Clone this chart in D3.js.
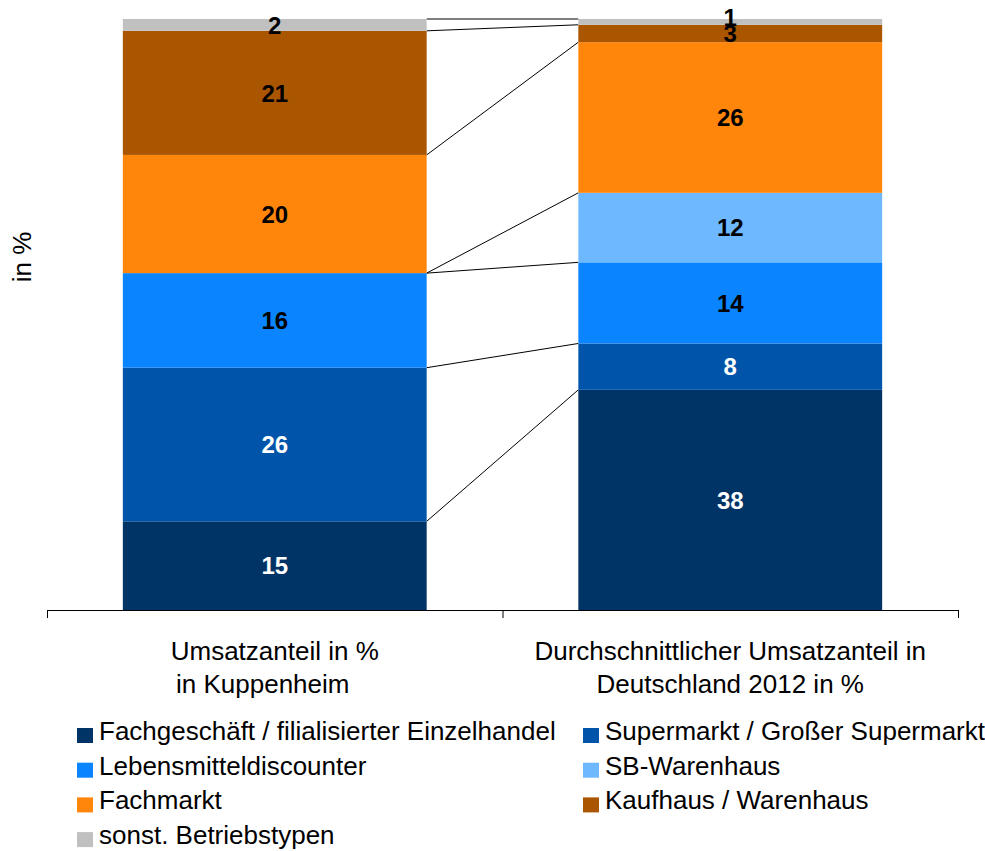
<!DOCTYPE html>
<html>
<head>
<meta charset="utf-8">
<script src="https://cdn.jsdelivr.net/npm/d3@7/dist/d3.min.js"></script>
<style>
  html, body { margin: 0; padding: 0; background: #fff; }
  svg { display: block; font-family: "Liberation Sans", Arial, sans-serif; }
</style>
</head>
<body>
<svg id="chart" width="985" height="851"></svg>
<script>
// Betriebstypen (stack order, bottom to top)
const seriesNames = [
  "Fachgeschäft / filialisierter Einzelhandel",
  "Supermarkt / Großer Supermarkt",
  "Lebensmitteldiscounter",
  "SB-Warenhaus",
  "Fachmarkt",
  "Kaufhaus / Warenhaus",
  "sonst. Betriebstypen"
];
const seriesColors = ["#003366", "#0055AA", "#0A84FF", "#6EB8FF", "#FF860A", "#AA5500", "#C0C0C0"];
const labelColors  = ["#fff", "#fff", "#000", "#000", "#000", "#000", "#000"];

// Categories (each label split into two lines)
const categories = ["Kuppenheim", "Deutschland 2012"];
const categoryLines = [
  ["Umsatzanteil in %", "in Kuppenheim"],
  ["Durchschnittlicher Umsatzanteil in", "Deutschland 2012 in %"]
];

// Umsatzanteil in % per Betriebstyp
const kuppenheim  = [15, 26, 16, 0, 20, 21, 2];
const deutschland = [38, 8, 14, 12, 26, 3, 1];

const rows = categories.map((c, i) => {
  const vals = i === 0 ? kuppenheim : deutschland;
  const r = { category: c };
  seriesNames.forEach((s, j) => r[s] = vals[j]);
  return r;
});

const svg = d3.select("#chart");
const margin = { left: 47, right: 27, top: 19, bottom: 241 };
const W = 985, H = 851;
const plotW = W - margin.left - margin.right;
const plotH = H - margin.top - margin.bottom;

const g = svg.append("g").attr("transform", `translate(${margin.left},${margin.top})`);

const x = d3.scaleBand().domain(categories).range([0, plotW]).paddingInner(0.333).paddingOuter(0.1665);
const y = d3.scaleLinear().domain([0, 1]).range([plotH, 0]);

const stacked = d3.stack().keys(seriesNames).offset(d3.stackOffsetExpand)(rows);

// Connector lines between the tops of matching segments
const leftCat = categories[0], rightCat = categories[1];
g.append("g").selectAll("line")
  .data(stacked)
  .join("line")
  .attr("x1", x(leftCat) + x.bandwidth())
  .attr("x2", x(rightCat))
  .attr("y1", d => y(d[0][1]))
  .attr("y2", d => y(d[1][1]))
  .attr("stroke", "#000")
  .attr("stroke-width", 1);

// Stacked segments
const layers = g.append("g").selectAll("g")
  .data(stacked)
  .join("g")
  .attr("fill", (d, i) => seriesColors[i]);

layers.selectAll("rect")
  .data(d => d.map(p => ({ p, key: d.key })))
  .join("rect")
  .attr("x", d => x(d.p.data.category))
  .attr("width", x.bandwidth())
  .attr("y", d => y(d.p[1]))
  .attr("height", d => y(d.p[0]) - y(d.p[1]));

// Value labels; a very thin top segment gets its label lifted a little
// so it does not sit on the label just below it
stacked.forEach((layer, i) => {
  const isTop = i === stacked.length - 1;
  g.append("g").selectAll("text")
    .data(layer.filter(p => p.data[layer.key] > 0))
    .join("text")
    .attr("x", p => x(p.data.category) + x.bandwidth() / 2)
    .attr("y", p => y((p[0] + p[1]) / 2) - (isTop && (p[1] - p[0]) < 0.015 ? 5 : 0))
    .attr("dy", "0.36em")
    .attr("text-anchor", "middle")
    .attr("font-size", 24)
    .attr("font-weight", "bold")
    .attr("fill", labelColors[i])
    .text(p => p.data[layer.key]);
});

// X axis baseline with category separators
const axis = g.append("g").attr("transform", `translate(0,${plotH})`);
axis.append("line").attr("x1", 0).attr("x2", plotW).attr("y1", 0.5).attr("y2", 0.5)
  .attr("stroke", "#000");
[0, x.step(), plotW].forEach(t => {
  axis.append("line").attr("x1", t + 0.5).attr("x2", t + 0.5).attr("y1", 0).attr("y2", 8)
    .attr("stroke", "#000");
});

// Category labels
categories.forEach((c, i) => {
  const cx = x(c) + x.bandwidth() / 2;
  const t = axis.append("text")
    .attr("text-anchor", "middle")
    .attr("font-size", 26)
    .attr("fill", "#000");
  categoryLines[i].forEach((line, k) => {
    t.append("tspan").attr("x", cx + (i === 0 && k === 1 ? -12 : 0)).attr("y", 50 + k * 33).text(line);
  });
});

// Y axis title
svg.append("text")
  .attr("transform", `translate(31,257) rotate(-90)`)
  .attr("text-anchor", "middle")
  .attr("font-size", 26)
  .text("in %");

// Legend, two columns
const legend = svg.append("g");
seriesNames.forEach((s, i) => {
  const col = i % 2, row = Math.floor(i / 2);
  const lx = col === 0 ? 77 : 583;
  const base = 740 + row * 34.7;
  legend.append("rect").attr("x", lx).attr("y", base - 12).attr("width", 16).attr("height", 15)
    .attr("fill", seriesColors[i]);
  legend.append("text").attr("x", lx + 22).attr("y", base)
    .attr("font-size", 26).text(s);
});
</script>
</body>
</html>
